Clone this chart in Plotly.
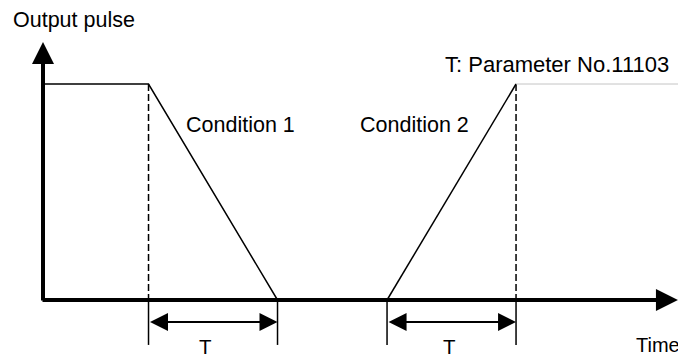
import plotly.graph_objects as go

# time in units of T, output pulse normalised to the high level
T_LEN = 1.0
cond1_start = 0.818
cond2_start = 2.667
pulse_high = 1.0
hold_end = 4.946

cond1_time = [0, cond1_start, cond1_start + T_LEN]
cond1_pulse = [pulse_high, pulse_high, 0]
cond2_time = [cond2_start, cond2_start + T_LEN]
cond2_pulse = [0, pulse_high]
hold_time = [cond2_start + T_LEN, hold_end]
hold_pulse = [pulse_high, pulse_high]

time_axis_end = 4.922
pulse_axis_end = 1.194
dim_level = -0.102
tick_bottom = -0.208

FONT_FAMILY = "Liberation Sans, Arial, sans-serif"

fig = go.Figure()

# dashed guides at the corners of each ramp
dash_x = [cond1_start, cond1_start, None, cond2_start + T_LEN, cond2_start + T_LEN]
dash_y = [pulse_high, 0, None, pulse_high, 0]
fig.add_trace(go.Scatter(x=dash_x, y=dash_y, mode="lines",
                         line=dict(color="black", width=1.5, dash="7px,3px")))

# extension ticks under the time axis
tick_x, tick_y = [], []
for t in [cond1_start, cond1_start + T_LEN, cond2_start, cond2_start + T_LEN]:
    tick_x += [t, t, None]
    tick_y += [0, tick_bottom, None]
fig.add_trace(go.Scatter(x=tick_x, y=tick_y, mode="lines",
                         line=dict(color="black", width=1.5)))

fig.add_trace(go.Scatter(x=cond1_time, y=cond1_pulse, mode="lines",
                         line=dict(color="black", width=1.5)))
fig.add_trace(go.Scatter(x=cond2_time, y=cond2_pulse, mode="lines",
                         line=dict(color="black", width=1.5)))
fig.add_trace(go.Scatter(x=hold_time, y=hold_pulse, mode="lines",
                         line=dict(color="#c4c4c4", width=1)))

annotations = []

# axes with arrow heads
annotations.append(dict(x=time_axis_end, y=0, ax=-0.0155, ay=0,
                        xref="x", yref="y", axref="x", ayref="y", text="",
                        showarrow=True, arrowhead=2, arrowsize=1.1,
                        arrowwidth=4, arrowcolor="black"))
annotations.append(dict(x=0, y=pulse_axis_end, ax=0, ay=-0.0093,
                        xref="x", yref="y", axref="x", ayref="y", text="",
                        showarrow=True, arrowhead=2, arrowsize=1.1,
                        arrowwidth=4, arrowcolor="black"))

# T dimension arrows
for t in [cond1_start, cond2_start]:
    annotations.append(dict(x=t + T_LEN, y=dim_level, ax=t, ay=dim_level,
                            xref="x", yref="y", axref="x", ayref="y", text="",
                            showarrow=True, arrowside="end+start",
                            arrowhead=2, startarrowhead=2,
                            arrowsize=1.8, startarrowsize=1.8,
                            arrowwidth=2, arrowcolor="black"))

labels = [
    ("Output pulse", -0.248, 1.2986, "left", 21.5),
    ("T: Parameter No.11103", 3.101, 1.0903, "left", 22),
    ("Condition 1", 1.093, 0.8079, "left", 21.5),
    ("Condition 2", 2.442, 0.810, "left", 21.5),
    ("Time", 4.953, -0.206, "right", 20),
    ("T", 1.256, -0.213, "center", 20.5),
    ("T", 3.151, -0.213, "center", 20.5),
]
for text, x, y, anchor, size in labels:
    annotations.append(dict(x=x, y=y, xref="x", yref="y", text=text,
                            showarrow=False, xanchor=anchor, yanchor="middle",
                            font=dict(family=FONT_FAMILY, size=size, color="black")))

# the page body adds an 8px margin, so the figure is 8px smaller than the window
fig.update_layout(
    width=678,
    height=350,
    margin=dict(l=0, r=0, t=0, b=0),
    paper_bgcolor="white",
    plot_bgcolor="white",
    showlegend=False,
    annotations=annotations,
    xaxis=dict(range=[-35 / 129, 643 / 129], visible=False, fixedrange=True),
    yaxis=dict(range=[-58 / 216, 292 / 216], visible=False, fixedrange=True),
)

fig.write_html("out.html")
